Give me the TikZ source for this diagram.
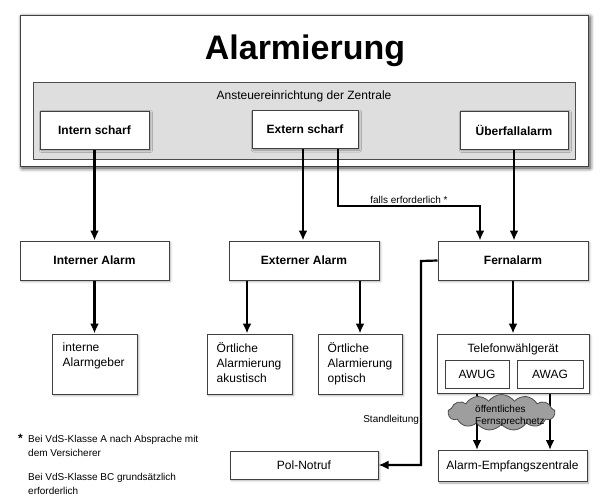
\documentclass[tikz,border=0pt]{standalone}
\usepackage{fontspec}
\setmainfont{Liberation Sans}
\usetikzlibrary{calc}
\usetikzlibrary{positioning}
\usetikzlibrary{arrows.meta}
\usetikzlibrary{shapes.symbols}
\usetikzlibrary{shadows.blur}
\tikzset{
    box/.style={rectangle,draw=black!75,line width=1pt,fill=white,inner sep=0pt,
        blur shadow={shadow xshift=1.5pt,shadow yshift=-1.5pt,shadow blur radius=2pt,shadow opacity=35}},
    boldbox/.style={box,font=\fontsize{12}{14}\selectfont\bfseries,minimum height=39pt},
    smallbox/.style={box,minimum width=85pt,minimum height=60pt},
    inbox/.style={rectangle,draw=black!75,line width=0.8pt,fill=white,minimum height=28pt,font=\fontsize{12}{14}\selectfont},
    boxtext/.style={align=left,anchor=north west,inner sep=0pt,font=\fontsize{12}{15}\selectfont},
    note/.style={inner sep=1pt,font=\fontsize{10}{14}\selectfont},
    arr/.style={line width=2.2pt,-{Latex[length=10pt,width=9pt]}},
}

\begin{document}
\begin{tikzpicture}[x=1pt,y=1pt]
    \useasboundingbox (0,0) rectangle (600,-501);
    % Zentrale
    \node[box,minimum width=568pt,minimum height=151pt,
        blur shadow={shadow xshift=2pt,shadow yshift=-2pt,shadow blur radius=4pt,shadow opacity=45}] (frame) at (304,-90.5) {};
    \node[anchor=base,font=\fontsize{34}{40}\selectfont\bfseries] (title) at (305,-59) {Alarmierung};
    \node[rectangle,draw=black!70,line width=0.8pt,fill=black!13,minimum width=542pt,minimum height=77pt] (central) at (304,-120.5) {};
    \node[anchor=base,inner sep=0pt,font=\fontsize{12}{14}\selectfont] (ctrl) at (304,-99) {Ansteuereinrichtung der Zentrale};
    \node[boldbox,minimum width=109pt,minimum height=38pt] (intsch) at (94.5,-130) {Intern scharf};
    \node[boldbox,minimum width=106pt,minimum height=38pt] (extsch) at (305,-129.5) {Extern scharf};
    \node[boldbox,minimum width=108pt,minimum height=38pt] (ueber) at (514,-130) {Überfallalarm};

    % Alarmarten
    \node[boldbox,minimum width=149pt] (intA) at (94.5,-260.5) {Interner Alarm};
    \node[boldbox,minimum width=150pt] (extA) at (304,-260.5) {Externer Alarm};
    \node[boldbox,minimum width=150pt] (fern) at (513,-260.5) {Fernalarm};

    % Melder
    \node[smallbox] (intgeb) at (94.5,-364) {};
    \node[boxtext] (intgebtxt) at ([shift={(11pt,-9pt)}]intgeb.north west) {interne\\Alarmgeber};
    \node[smallbox] (aku) at (249.5,-364) {};
    \node[boxtext] (akutxt) at ([shift={(10pt,-9pt)}]aku.north west) {Örtliche\\Alarmierung\\akustisch};
    \node[smallbox,minimum width=84pt] (opt) at (360,-364) {};
    \node[boxtext] (opttxt) at ([shift={(10pt,-9pt)}]opt.north west) {Örtliche\\Alarmierung\\optisch};

    \node[box,minimum width=152pt,minimum height=59pt] (tel) at (513,-363.5) {};
    \node[anchor=base,inner sep=0pt,font=\fontsize{12}{14}\selectfont] (teltxt) at (513,-352) {Telefonwählgerät};
    \node[inbox,minimum width=64pt] (awug) at (477,-374) {AWUG};
    \node[inbox,minimum width=66pt] (awag) at (550,-374) {AWAG};

    \node[box,minimum width=148pt,minimum height=28pt,font=\fontsize{12}{14}\selectfont] (pol) at (304,-465) {Pol-Notruf};
    \node[box,minimum width=149pt,minimum height=31pt,font=\fontsize{12}{14}\selectfont] (aez) at (512.5,-466) {Alarm-Empfangszentrale};

    % Verbindungen
    \draw[arr] (intsch.south) -- (intA.north);
    \draw[arr] ([xshift=-2pt]extsch.south) -- ([xshift=-2pt]extsch.south |- extA.north);
    \coordinate (knee) at (480,-206);
    \draw[arr] ([xshift=33pt]extsch.south) |- node[note,above,pos=0.75] (falls) {falls erforderlich *} (knee) -- (knee |- fern.north);
    \draw[arr] (ueber.south) -- (ueber.south |- fern.north);
    \draw[arr] (intA.south) -- (intgeb.north);
    \draw[arr] ([xshift=-2.5pt]aku.north |- extA.south) -- ([xshift=-2.5pt]aku.north);
    \draw[arr] (opt.north |- extA.south) -- (opt.north);
    \draw[arr] (fern.south) -- (tel.north);
    \coordinate (stand) at (421,-261);
    \draw[arr] (fern.west) -- (stand) |- node[note,left,pos=0.39] (standl) {Standleitung} (pol.east);
    \draw[arr] (awug.south |- tel.south) -- (awug.south |- aez.north);
    \draw[arr] (awag.south |- tel.south) -- (awag.south |- aez.north);

    % Netz
    \node[cloud,cloud puffs=13,cloud puff arc=110,aspect=3,draw=black!70,line width=0.8pt,fill=black!38,
        minimum width=107pt,minimum height=36pt,inner sep=0pt] (net) at (501.5,-412.5) {};
    \node[anchor=north west,align=left,inner sep=0pt,font=\fontsize{10}{12}\selectfont] (nettxt) at (475,-405) {öffentliches\\Fernsprechnetz};

    % Fussnote
    \node[note,anchor=north west,align=left,inner sep=0pt] (fn) at (28,-435) {Bei VdS-Klasse A nach Absprache mit\\dem Versicherer\\[10pt]Bei VdS-Klasse BC grundsätzlich\\erforderlich};
    \node[note,anchor=north east,inner sep=0pt,font=\fontsize{12}{14}\selectfont\bfseries] (star) at ([xshift=-5pt,yshift=1pt]fn.north west) {*};
\end{tikzpicture}
\end{document}
